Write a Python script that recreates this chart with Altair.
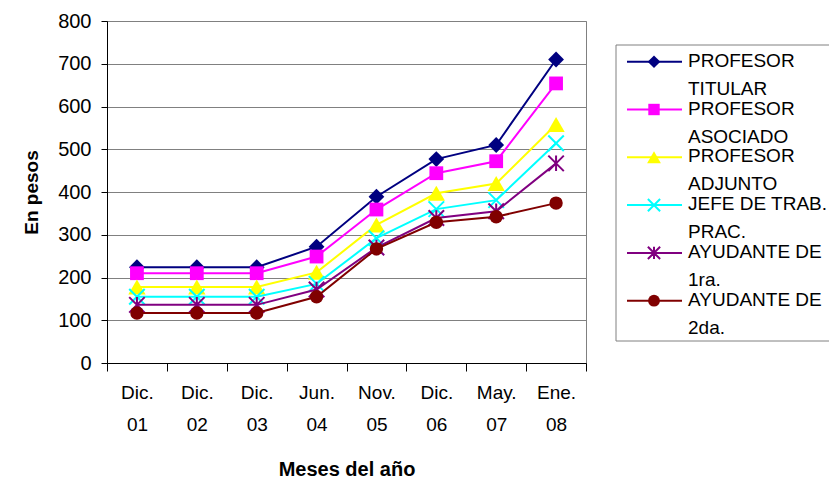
import altair as alt
import pandas as pd

# ---------------- data ----------------
months = ["Dic. 01", "Dic. 02", "Dic. 03", "Jun. 04", "Nov. 05", "Dic. 06", "May. 07", "Ene. 08"]
series_names = [
    "PROFESOR TITULAR",
    "PROFESOR ASOCIADO",
    "PROFESOR ADJUNTO",
    "JEFE DE TRAB. PRAC.",
    "AYUDANTE DE 1ra.",
    "AYUDANTE DE 2da.",
]
legend_labels = [
    "PROFESOR|TITULAR",
    "PROFESOR|ASOCIADO",
    "PROFESOR|ADJUNTO",
    "JEFE DE TRAB.|PRAC.",
    "AYUDANTE DE|1ra.",
    "AYUDANTE DE|2da.",
]
titular = [224, 224, 224, 272, 389, 477, 510, 710]
asociado = [210, 210, 210, 249, 359, 444, 472, 654]
adjunto = [178, 178, 178, 212, 323, 397, 420, 558]
jtp = [155, 155, 155, 185, 292, 360, 381, 514]
ayudante1 = [136, 136, 136, 172, 270, 339, 355, 467]
ayudante2 = [117, 117, 117, 155, 267, 329, 342, 374]
y_ticks = [0, 100, 200, 300, 400, 500, 600, 700, 800]

all_values = [titular, asociado, adjunto, jtp, ayudante1, ayudante2]

rows = []
for name, vals in zip(series_names, all_values):
    for m, v in zip(months, vals):
        rows.append({"series": name, "month": m, "value": v})
df = pd.DataFrame(rows)
legend_df = pd.DataFrame({"series": series_names, "label": legend_labels})

# ---------------- styles ----------------
FONT = "Liberation Sans"
colors = ["#000080", "#FF00FF", "#FFFF00", "#00FFFF", "#800080", "#800000"]
X_PATH = "M-1,-1L1,1M-1,1L1,-1"
AST_PATH = "M-1,-1L1,1M-1,1L1,-1M0,-1L0,1"
shapes = ["diamond", "square", "triangle-up", X_PATH, AST_PATH, "circle"]
filled = [True, True, True, False, False, True]
sizes = [250, 190, 300, 240, 240, 180]
legend_sizes = [160, 130, 190, 150, 150, 140]

W, H = 479, 342

x_enc = alt.X(
    "month:N",
    sort=months,
    scale=alt.Scale(type="band", domain=months, paddingInner=0, paddingOuter=0),
    axis=alt.Axis(
        title="Meses del año",
        labelExpr="isValid(datum.value) ? split(datum.value, ' ') : ''",
        labelAngle=0,
        tickBand="extent",
        tickSize=8,
        tickColor="black",
        domainColor="black",
        labelColor="black",
        labelFont=FONT,
        labelFontSize=19,
        labelLineHeight=32,
        labelPadding=12,
        labelBaseline="top",
        titleFont=FONT,
        titleFontSize=20,
        titleFontWeight="bold",
        titleColor="black",
        titleY=112,
        titleBaseline="alphabetic",
        grid=False,
    ),
)
y_enc = alt.Y(
    "value:Q",
    scale=alt.Scale(domain=[0, 800], nice=False),
    axis=alt.Axis(
        values=y_ticks,
        title="En pesos",
        grid=True,
        gridColor="#808080",
        gridWidth=1,
        tickSize=6,
        tickColor="black",
        domainColor="black",
        labelColor="black",
        labelFont=FONT,
        labelFontSize=20,
        labelPadding=10,
        titleFont=FONT,
        titleFontSize=19,
        titleFontWeight="bold",
        titleColor="black",
        titleX=-76,
        titleY=H / 2,
        titleBaseline="middle",
    ),
)

layers = []
base = alt.Chart(df)
for i, name in enumerate(series_names):
    sub = base.transform_filter(alt.datum.series == name)
    layers.append(
        sub.mark_line(color=colors[i], strokeWidth=2).encode(x=x_enc, y=y_enc)
    )
    if filled[i]:
        pt = sub.mark_point(shape=shapes[i], size=sizes[i], filled=True,
                            color=colors[i], opacity=1)
    else:
        pt = sub.mark_point(shape=shapes[i], size=sizes[i], filled=False,
                            color=colors[i], strokeWidth=2, opacity=1)
    layers.append(pt.encode(x=x_enc, y=y_enc))

# ---------------- legend (drawn manually) ----------------
lbase = alt.Chart(legend_df)
layers.append(
    lbase.transform_filter(alt.datum.series == series_names[0])
    .mark_rect(fillOpacity=0, stroke="#808080", strokeWidth=1)
    .encode(x=alt.value(509), x2=alt.value(780), y=alt.value(24), y2=alt.value(320))
)
for i, name in enumerate(series_names):
    ly = 40.7 + 47.8 * i
    sub = lbase.transform_filter(alt.datum.series == name)
    layers.append(
        sub.mark_rule(color=colors[i], strokeWidth=2).encode(
            x=alt.value(520), x2=alt.value(575), y=alt.value(ly)
        )
    )
    if filled[i]:
        pt = sub.mark_point(shape=shapes[i], size=legend_sizes[i], filled=True,
                            color=colors[i], opacity=1)
    else:
        pt = sub.mark_point(shape=shapes[i], size=legend_sizes[i], filled=False,
                            color=colors[i], strokeWidth=2, opacity=1)
    layers.append(pt.encode(x=alt.value(547), y=alt.value(ly)))
    layers.append(
        sub.transform_calculate(lines="split(datum.label, '|')")
        .mark_text(align="left", baseline="alphabetic", font=FONT, fontSize=19,
                   lineHeight=28, color="black")
        .encode(x=alt.value(581), y=alt.value(ly + 5), text="lines:N")
    )

chart = (
    alt.layer(*layers)
    .properties(
        width=W,
        height=H,
        padding={"left": 99, "top": 13, "right": 243, "bottom": 115},
        autosize=alt.AutoSizeParams(type="none"),
        background="white",
    )
    .configure_view(stroke="#808080", strokeWidth=1)
)

chart.save("out.html", embed_options={"renderer": "svg", "actions": False})
